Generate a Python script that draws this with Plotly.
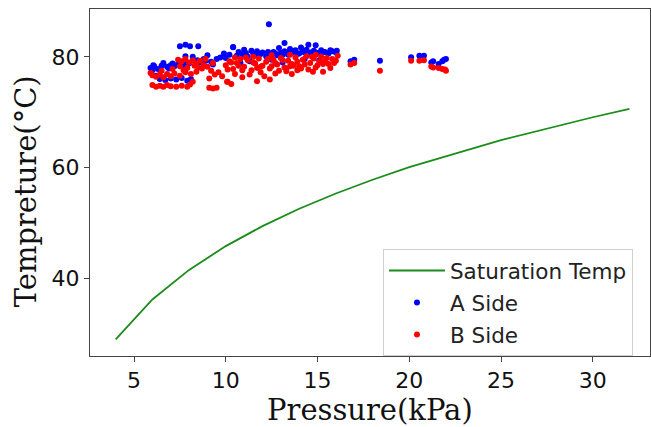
import plotly.graph_objects as go

# Saturation temperature curve
sat_p = [4, 6, 8, 10, 12, 14, 16, 18, 20, 25, 30, 32]
sat_t = [28.96, 36.16, 41.51, 45.81, 49.42, 52.55, 55.31, 57.80, 60.06, 64.96, 69.09, 70.6]

# A Side measurements
a_p = [5.9, 6.0, 6.1, 6.3, 6.5, 6.6, 6.8, 7.0, 7.2, 7.4, 7.6, 7.8, 8.0, 8.3, 8.6, 8.9,
       6.4, 6.7, 7.0, 7.3, 7.6, 7.9, 8.1, 6.2,
       7.5, 7.8, 8.05, 8.5, 7.8, 8.2, 9.0, 9.5, 9.9, 10.2, 10.4, 10.0,
       10.6, 10.9, 11.2, 11.5, 11.8, 12.0, 12.2, 12.4, 12.6, 12.8, 13.0, 13.2, 13.4, 13.6,
       13.8, 14.0, 14.2, 14.4, 14.6, 14.8, 15.0, 15.2, 15.4, 15.6, 15.8, 16.05,
       11.0, 11.7, 12.9, 13.5, 14.1,
       12.35, 13.2, 14.5, 14.9, 10.4,
       11.3, 12.5, 13.1, 14.3, 15.1, 9.3, 10.8,
       10.7, 11.1, 11.4, 11.9, 12.3, 12.7, 13.1, 13.3, 13.7, 13.9, 14.3, 14.7, 15.3, 15.7, 16.0,
       6.05, 6.9, 7.1, 7.7, 8.45, 8.8, 9.2, 9.7,
       16.8, 17.0, 18.4, 20.1, 20.55, 20.8, 21.2, 21.3, 21.6, 21.8, 21.9, 22.0]
a_t = [78.0, 77.6, 78.3, 77.8, 78.4, 78.9, 78.2, 78.5, 78.3, 78.7, 78.6, 79.0, 78.8, 79.2, 79.0, 79.3,
       76.0, 75.8, 76.1, 75.9, 76.2, 75.7, 76.0, 76.6,
       81.9, 82.2, 81.9, 81.9, 80.1, 80.0, 80.3, 79.6, 80.6, 80.4, 81.8, 79.8,
       80.2, 80.5, 80.0, 80.6, 80.3, 80.8, 80.1, 80.6, 80.9, 80.3, 80.7, 81.0, 80.4, 80.8,
       81.2, 80.6, 81.0, 81.3, 80.8, 81.1, 80.7, 81.2, 80.9, 80.6, 81.0, 81.1,
       81.3, 81.0, 81.6, 81.4, 81.7,
       85.9, 82.5, 82.2, 82.1, 81.75,
       79.2, 79.5, 79.0, 79.6, 79.4, 78.6, 78.9,
       80.9, 80.7, 81.1, 80.5, 80.9, 80.6, 80.4, 80.8, 81.0, 80.5, 80.8, 80.5, 80.9, 81.2, 80.8,
       78.5, 77.9, 78.8, 78.1, 79.4, 79.6, 79.1, 79.9,
       79.2, 79.5, 79.3, 79.95, 80.2, 80.2, 79.0, 79.2, 78.7, 79.2, 79.5, 79.6]

# B Side measurements
b_p = [5.9, 6.0, 6.2, 6.4, 6.6, 6.8, 7.0, 7.2, 7.5, 7.8, 8.1, 8.4,
       6.0, 6.2, 6.4, 6.6, 6.8, 7.0, 7.3, 7.6, 7.9, 8.05, 8.2, 9.1, 9.3, 9.5, 10.07, 10.1, 10.3,
       7.4, 7.6, 7.8, 8.0, 8.2, 8.4, 8.6, 8.8, 9.0, 8.7, 9.2, 9.4, 9.6, 9.8, 9.1,
       10.0, 10.2, 10.4, 10.6, 10.8, 11.0, 11.2, 11.4, 11.6, 11.8, 12.0, 12.2, 12.4, 12.6,
       12.8, 13.0, 13.2, 13.4, 13.6, 13.8, 14.0, 14.2, 14.4, 14.6, 14.8, 15.0, 15.2, 15.4,
       15.6, 15.8, 16.0, 16.1, 12.5, 13.5, 11.5, 10.5, 14.9,
       10.5, 10.9, 11.3, 11.7, 12.1, 12.4, 11.9, 12.7, 13.3, 13.9, 14.75, 15.3, 13.6,
       10.3, 10.7, 11.1, 11.5, 11.9, 12.3, 12.7, 13.1, 13.5, 13.9, 14.3, 14.7, 15.1, 15.5, 15.9,
       10.1, 10.9, 11.7, 12.5, 13.3, 14.1, 14.9, 15.7, 12.9, 13.7, 14.5, 15.3,
       7.5, 7.9, 8.3, 8.5, 8.9, 9.3, 6.5, 7.1, 7.7,
       16.8, 17.0, 18.4, 20.1, 20.55, 20.8, 21.2, 21.3, 21.6, 21.8, 21.95, 22.0]
b_t = [77.1, 76.7, 76.4, 76.8, 76.3, 76.9, 76.5, 77.0, 76.6, 77.2, 76.9, 77.3,
       74.9, 74.6, 74.8, 74.6, 74.9, 74.7, 74.6, 74.8, 74.6, 75.0, 75.5, 74.4, 74.3, 74.4, 75.5, 75.5, 75.1,
       79.5, 79.2, 79.6, 79.0, 79.4, 78.8, 79.3, 78.5, 78.2, 77.9, 77.5, 76.8, 77.2, 76.5, 76.1,
       78.5, 79.2, 77.8, 78.9, 79.6, 78.2, 79.4, 77.6, 78.8, 79.7, 78.4, 79.1, 77.9, 79.5,
       78.6, 79.8, 78.1, 79.3, 78.7, 79.9, 78.3, 79.5, 80.1, 78.9, 79.7, 78.5, 80.0, 79.2,
       78.7, 79.6, 79.3, 80.2, 80.3, 80.4, 80.0, 79.9, 80.4,
       76.9, 76.3, 76.8, 75.6, 76.5, 75.9, 77.2, 77.0, 77.4, 77.6, 77.3, 77.3, 76.9,
       79.0, 78.4, 79.9, 79.0, 78.2, 79.6, 78.9, 79.4, 78.3, 79.1, 78.6, 80.0, 79.1, 79.8, 78.9,
       77.7, 77.6, 78.0, 78.3, 77.8, 77.9, 78.1, 78.0, 77.5, 78.4, 77.7, 78.7,
       78.3, 78.0, 78.4, 78.1, 79.6, 78.9, 77.5, 77.8, 77.6,
       78.6, 78.9, 77.5, 79.3, 79.3, 79.4, 78.25, 78.1, 78.0, 77.8, 77.7, 77.5]

x_ticks = [5, 10, 15, 20, 25, 30]
y_ticks = [40, 60, 80]
x_title = "Pressure(kPa)"
y_title = "Tempreture(°C)"

fig = go.Figure()
fig.add_trace(go.Scatter(x=sat_p, y=sat_t, mode="lines", name="Saturation Temp",
                         line=dict(color="#1a8c1a", width=1.8), legendgroup="g1"))
fig.add_trace(go.Scatter(x=a_p, y=a_t, mode="markers", name="A Side",
                         marker=dict(color="#0000ff", size=6, line=dict(width=0)),
                         legendgroup="g2"))
fig.add_trace(go.Scatter(x=b_p, y=b_t, mode="markers", name="B Side",
                         marker=dict(color="#ff0000", size=6, line=dict(width=0)),
                         legendgroup="g3"))

axis_common = dict(showgrid=False, zeroline=False, showline=True, mirror=True,
                   linecolor="#444", linewidth=1, ticks="outside", ticklen=5,
                   tickcolor="#444", tickwidth=1,
                   tickfont=dict(family="DejaVu Sans", size=22, color="#111"))

fig.update_layout(
    width=651, height=427,
    margin=dict(l=90, r=1, t=9, b=71),
    paper_bgcolor="white", plot_bgcolor="white",
    xaxis=dict(range=[2.6, 33.12], tickvals=x_ticks, **axis_common),
    yaxis=dict(range=[25.95, 88.65], tickvals=y_ticks, **axis_common),
    legend=dict(x=0.9696, xanchor="right", y=0.0, yanchor="bottom",
                bgcolor="white", bordercolor="#d0d0d0", borderwidth=1,
                font=dict(family="DejaVu Sans", size=21.5, color="#222"),
                traceorder="grouped", tracegroupgap=1, itemwidth=56),
    showlegend=True,
    annotations=[
        dict(text=x_title, xref="paper", yref="paper", x=0.5, y=-0.157,
             xanchor="center", yanchor="middle", showarrow=False,
             font=dict(family="DejaVu Serif", size=29, color="#111")),
        dict(text=y_title, xref="paper", yref="paper", x=-0.114, y=0.475,
             xanchor="center", yanchor="middle", showarrow=False, textangle=-90,
             font=dict(family="DejaVu Serif", size=29, color="#111")),
    ],
)

fig.write_html("out.html")
